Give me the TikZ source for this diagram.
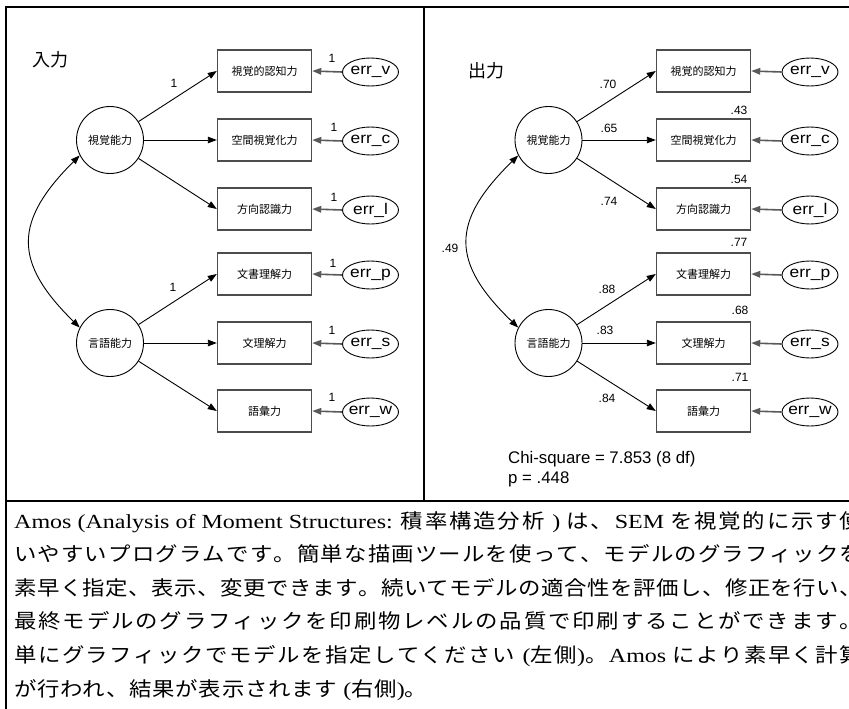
\documentclass[tikz,border=0pt]{standalone}
\usepackage{fontspec}
\setmainfont{Liberation Serif}
\newfontfamily\tserif[FakeStretch=1.2]{Liberation Serif}
\newfontfamily\jp[FakeStretch=1.12]{Noto Sans CJK JP}
\newfontfamily\jpn[FakeStretch=1.12,LetterSpace=4]{Noto Sans CJK JP}
\newfontfamily\djp{Noto Sans CJK JP}
\newfontfamily\dsans{Liberation Sans}
\newfontfamily\esans[FakeStretch=1.12]{Liberation Sans}
\usetikzlibrary{arrows.meta,shapes.geometric}
\ExplSyntaxOn
\NewDocumentCommand\J{m}{ { \jp \tl_map_inline:nn {#1} { ##1 \hfil } } }
\ExplSyntaxOff
\begin{document}
\begin{tikzpicture}[x=1pt,y=-1pt,
  >={Triangle[length=9pt,width=6.5pt]},
  obsbox/.style={draw=black!70, line width=1.4pt, minimum width=94pt, minimum height=42pt, inner sep=0pt, font=\djp\fontsize{11}{13}\selectfont},
  latent/.style={circle, draw=black, line width=0.9pt, minimum size=67pt, inner sep=0pt, font=\djp\fontsize{11}{13}\selectfont},
  errell/.style={ellipse, draw=black, line width=0.9pt, minimum width=56pt, minimum height=28pt, inner sep=0pt, font=\esans\fontsize{15.5}{18}\selectfont},
  numlab/.style={font=\dsans\fontsize{12}{14}\selectfont, inner sep=0pt},
  loadarrow/.style={->, line width=0.9pt},
  errarrow/.style={->, line width=1.6pt, draw=black!65, fill=black!65},
  corrarrow/.style={<->, line width=0.9pt},
  title/.style={font=\djp\fontsize{18}{20}\selectfont, inner sep=0pt},
  fitlab/.style={font=\dsans\fontsize{16.8}{19}\selectfont, inner sep=0pt, anchor=base west},
  txtline/.style={anchor=base west, inner sep=0pt, font=\tserif\fontsize{20}{24}\selectfont}]
\useasboundingbox (0,0) rectangle (849,709);
% frame
\draw[line width=2.6pt] (6,712) -- (6,7) -- (860,7);
\draw[line width=2.6pt] (424,7) -- (424,501);
\draw[line width=2.6pt] (6,501) -- (860,501);
% titles
\node[title] (tin) at (50,59.5) {入力};
\node[title] (tout) at (486.5,70.5) {出力};
% latent variables
\node[latent] (LV) at (110,140) {視覚能力};
\node[latent] (LG) at (110,343) {言語能力};
\node[latent] (RV) at (548.5,140) {視覚能力};
\node[latent] (RG) at (548.5,343) {言語能力};
% observed + errors
\foreach \i/\y/\t/\e in {1/71/視覚的認知力/err\_v,2/140/空間視覚化力/err\_c,3/209/方向認識力/err\_l,4/274/文書理解力/err\_p,5/343/文理解力/err\_s,6/411/語彙力/err\_w}{
  \node[obsbox] (LB\i) at (264.5,\y) {\t};
  \node[errell] (LE\i) at (370.5,\y+1) {\makebox[0pt]{\e}};
  \draw[errarrow] (LE\i.west) -- (LB\i.east);
  \node[obsbox] (RB\i) at (703.5,\y) {\t};
  \node[errell] (RE\i) at (810,\y+1) {\makebox[0pt]{\e}};
  \draw[errarrow] (RE\i.west) -- (RB\i.east);
}
% loadings
\foreach \s in {L,R}{
  \draw[loadarrow] (\s V) -- (\s B1.west);
  \draw[loadarrow] (\s V) -- (\s B2.west);
  \draw[loadarrow] (\s V) -- (\s B3.west);
  \draw[loadarrow] (\s G) -- (\s B4.west);
  \draw[loadarrow] (\s G) -- (\s B5.west);
  \draw[loadarrow] (\s G) -- (\s B6.west);
}
% correlations
\draw[corrarrow] (LV.207) .. controls (13.3,221.7) and (13.3,262.3) .. (LG.153);
\draw[corrarrow] (RV.207) .. controls (450.5,221.7) and (450.5,262.3) .. (RG.153);
% left labels
\node[numlab] (le1) at (332,58) {1};
\node[numlab] (le2) at (334,127) {1};
\node[numlab] (le3) at (334,197) {1};
\node[numlab] (le4) at (333,263) {1};
\node[numlab] (le5) at (332,330) {1};
\node[numlab] (le6) at (332,397) {1};
\node[numlab] (lp1) at (174,83) {1};
\node[numlab] (lp2) at (173,287) {1};
% right labels
\node[numlab] (rp1) at (608,84.5) {.70};
\node[numlab] (rp2) at (609,128) {.65};
\node[numlab] (rp3) at (609,201) {.74};
\node[numlab] (rp4) at (607,289) {.88};
\node[numlab] (rp5) at (605,330) {.83};
\node[numlab] (rp6) at (607,398) {.84};
\node[numlab] (rr2) at (739,110) {.43};
\node[numlab] (rr3) at (739,179) {.54};
\node[numlab] (rr4) at (739,242) {.77};
\node[numlab] (rr5) at (740,310) {.68};
\node[numlab] (rr6) at (740,377) {.71};
\node[numlab] (rc) at (450,248) {.49};
\node[fitlab] (chi) at (508,463) {Chi-square = 7.853 (8 df)};
\node[fitlab] (pv) at (508,483) {p = .448};
% text block
\node[txtline] (t1) at (14,528) {\hbox to 848pt{Amos (Analysis of Moment Structures: \J{積率構造分析} ) \J{は、}SEM \J{を視覚的に示す使}\unskip}};
\node[txtline] (t2) at (14,561.6) {\hbox to 848pt{\J{いやすいプログラムです。簡単な描画ツールを使って、モデルのグラフィックを}\unskip}};
\node[txtline] (t3) at (14,595.2) {\hbox to 848pt{\J{素早く指定、表示、変更できます。続いてモデルの適合性を評価し、修正を行い、}\unskip}};
\node[txtline] (t4) at (14,628.8) {\hbox to 848pt{\J{最終モデルのグラフィックを印刷物レベルの品質で印刷することができます。}\unskip}};
\node[txtline] (t5) at (14,662.4) {\hbox to 848pt{\J{単にグラフィックでモデルを指定してください} (\J{左側}\unskip)\J{。}Amos \J{により素早く計算}\unskip}};
\node[txtline] (t6) at (14,696) {{\jpn が行われ、結果が表示されます} ({\jpn 右側}){\jpn 。}};
\end{tikzpicture}
\end{document}
